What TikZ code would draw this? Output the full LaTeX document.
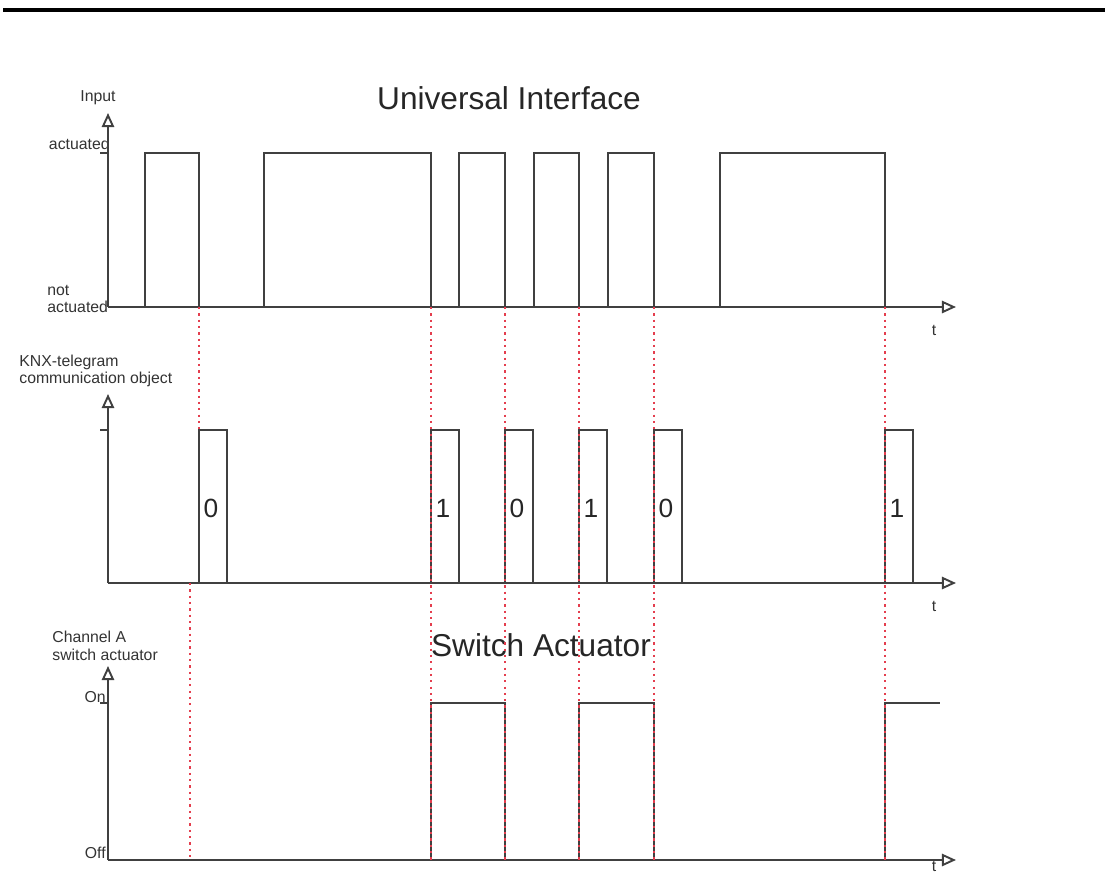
\documentclass[tikz,border=0pt]{standalone}
\usepackage{fontspec}
\setmainfont{Liberation Sans}
\usetikzlibrary{arrows.meta}
\definecolor{markred}{RGB}{228,62,78}
\tikzset{
    % Axes and traces
    axis/.style   = {draw=black!75, line width=1.1pt, -{Triangle[open, length=8pt, width=7pt]}},
    signal/.style = {draw=black!75, line width=1.1pt},
    marker/.style = {draw=markred, line width=1.3pt, dash pattern=on 1.3pt off 2.3pt},
    tick/.style   = {draw=black!75, line width=0.9pt},
    % Texts
    title/.style  = {font=\fontsize{18}{20}\selectfont, text=black!85},
    lbl/.style    = {font=\fontsize{9}{10}\selectfont, text=black!80, inner sep=0pt, align=left},
    bit/.style    = {font=\fontsize{15}{16}\selectfont, text=black!85, inner sep=0pt}
}

\begin{document}
\begin{tikzpicture}[x=0.02cm, y=-0.02cm]
    \useasboundingbox (0,0) rectangle (1105,875);
    \draw[line width=2pt] (3,10) -- (1105,10);

    % Universal Interface (input)
    \node (uititle) [title] at (509,98) {Universal Interface};
    \node (inlbl) [lbl] at (98,98) {Input};
    \node (act) [lbl, anchor=east] at (110,144) {actuated};
    \node (notact) [lbl, anchor=west] at (47,299) {not\\actuated};
    \draw[tick] (100,153) -- (108,153);
    \draw[axis] (108,307) -- (108,113);
    \draw[axis] (108,307) -- (956,307);
    \node (t1) [lbl] at (934,330) {t};
    \foreach \a/\b in {145/199, 264/431, 459/505, 534/579, 608/654, 720/885}
        \draw[signal] (\a,307) -- (\a,153) -- (\b,153) -- (\b,307);

    % KNX telegrams
    \node (knxlbl) [lbl, anchor=west] at (19,371) {KNX-telegram\\communication object};
    \draw[tick] (100,430) -- (108,430);
    \draw[axis] (108,583) -- (108,394);
    \draw[axis] (108,583) -- (956,583);
    \node (t2) [lbl] at (934,606) {t};
    \foreach \a/\v in {199/0, 431/1, 505/0, 579/1, 654/0, 885/1} {
        \draw[signal] (\a,583) -- (\a,430) -- (\a+28,430) -- (\a+28,583);
        \node (bit\a) [bit] at (\a+12,508) {\v};
    }

    % Switch Actuator
    \node (satitle) [title] at (541,645) {Switch Actuator};
    \node (chlbl) [lbl, anchor=west] at (52,646) {Channel A\\switch actuator};
    \node (on) [lbl, anchor=east] at (106,697) {On};
    \node (off) [lbl, anchor=east] at (106,853) {Off};
    \draw[tick] (100,703) -- (108,703);
    \draw[axis] (108,860) -- (108,666);
    \draw[axis] (108,860) -- (956,860);
    \node (t3) [lbl, anchor=south] at (934,872) {t};
    \foreach \a/\b in {431/505, 579/654}
        \draw[signal] (\a,860) -- (\a,703) -- (\b,703) -- (\b,860);
    \draw[signal] (885,860) -- (885,703) -- (940,703);

    % red markers
    \draw[marker] (199,307) -- (199,430);
    \draw[marker] (190,583) -- (190,860);
    \foreach \x in {431, 505, 579, 654, 885}
        \draw[marker] (\x,307) -- (\x,860);
\end{tikzpicture}
\end{document}
